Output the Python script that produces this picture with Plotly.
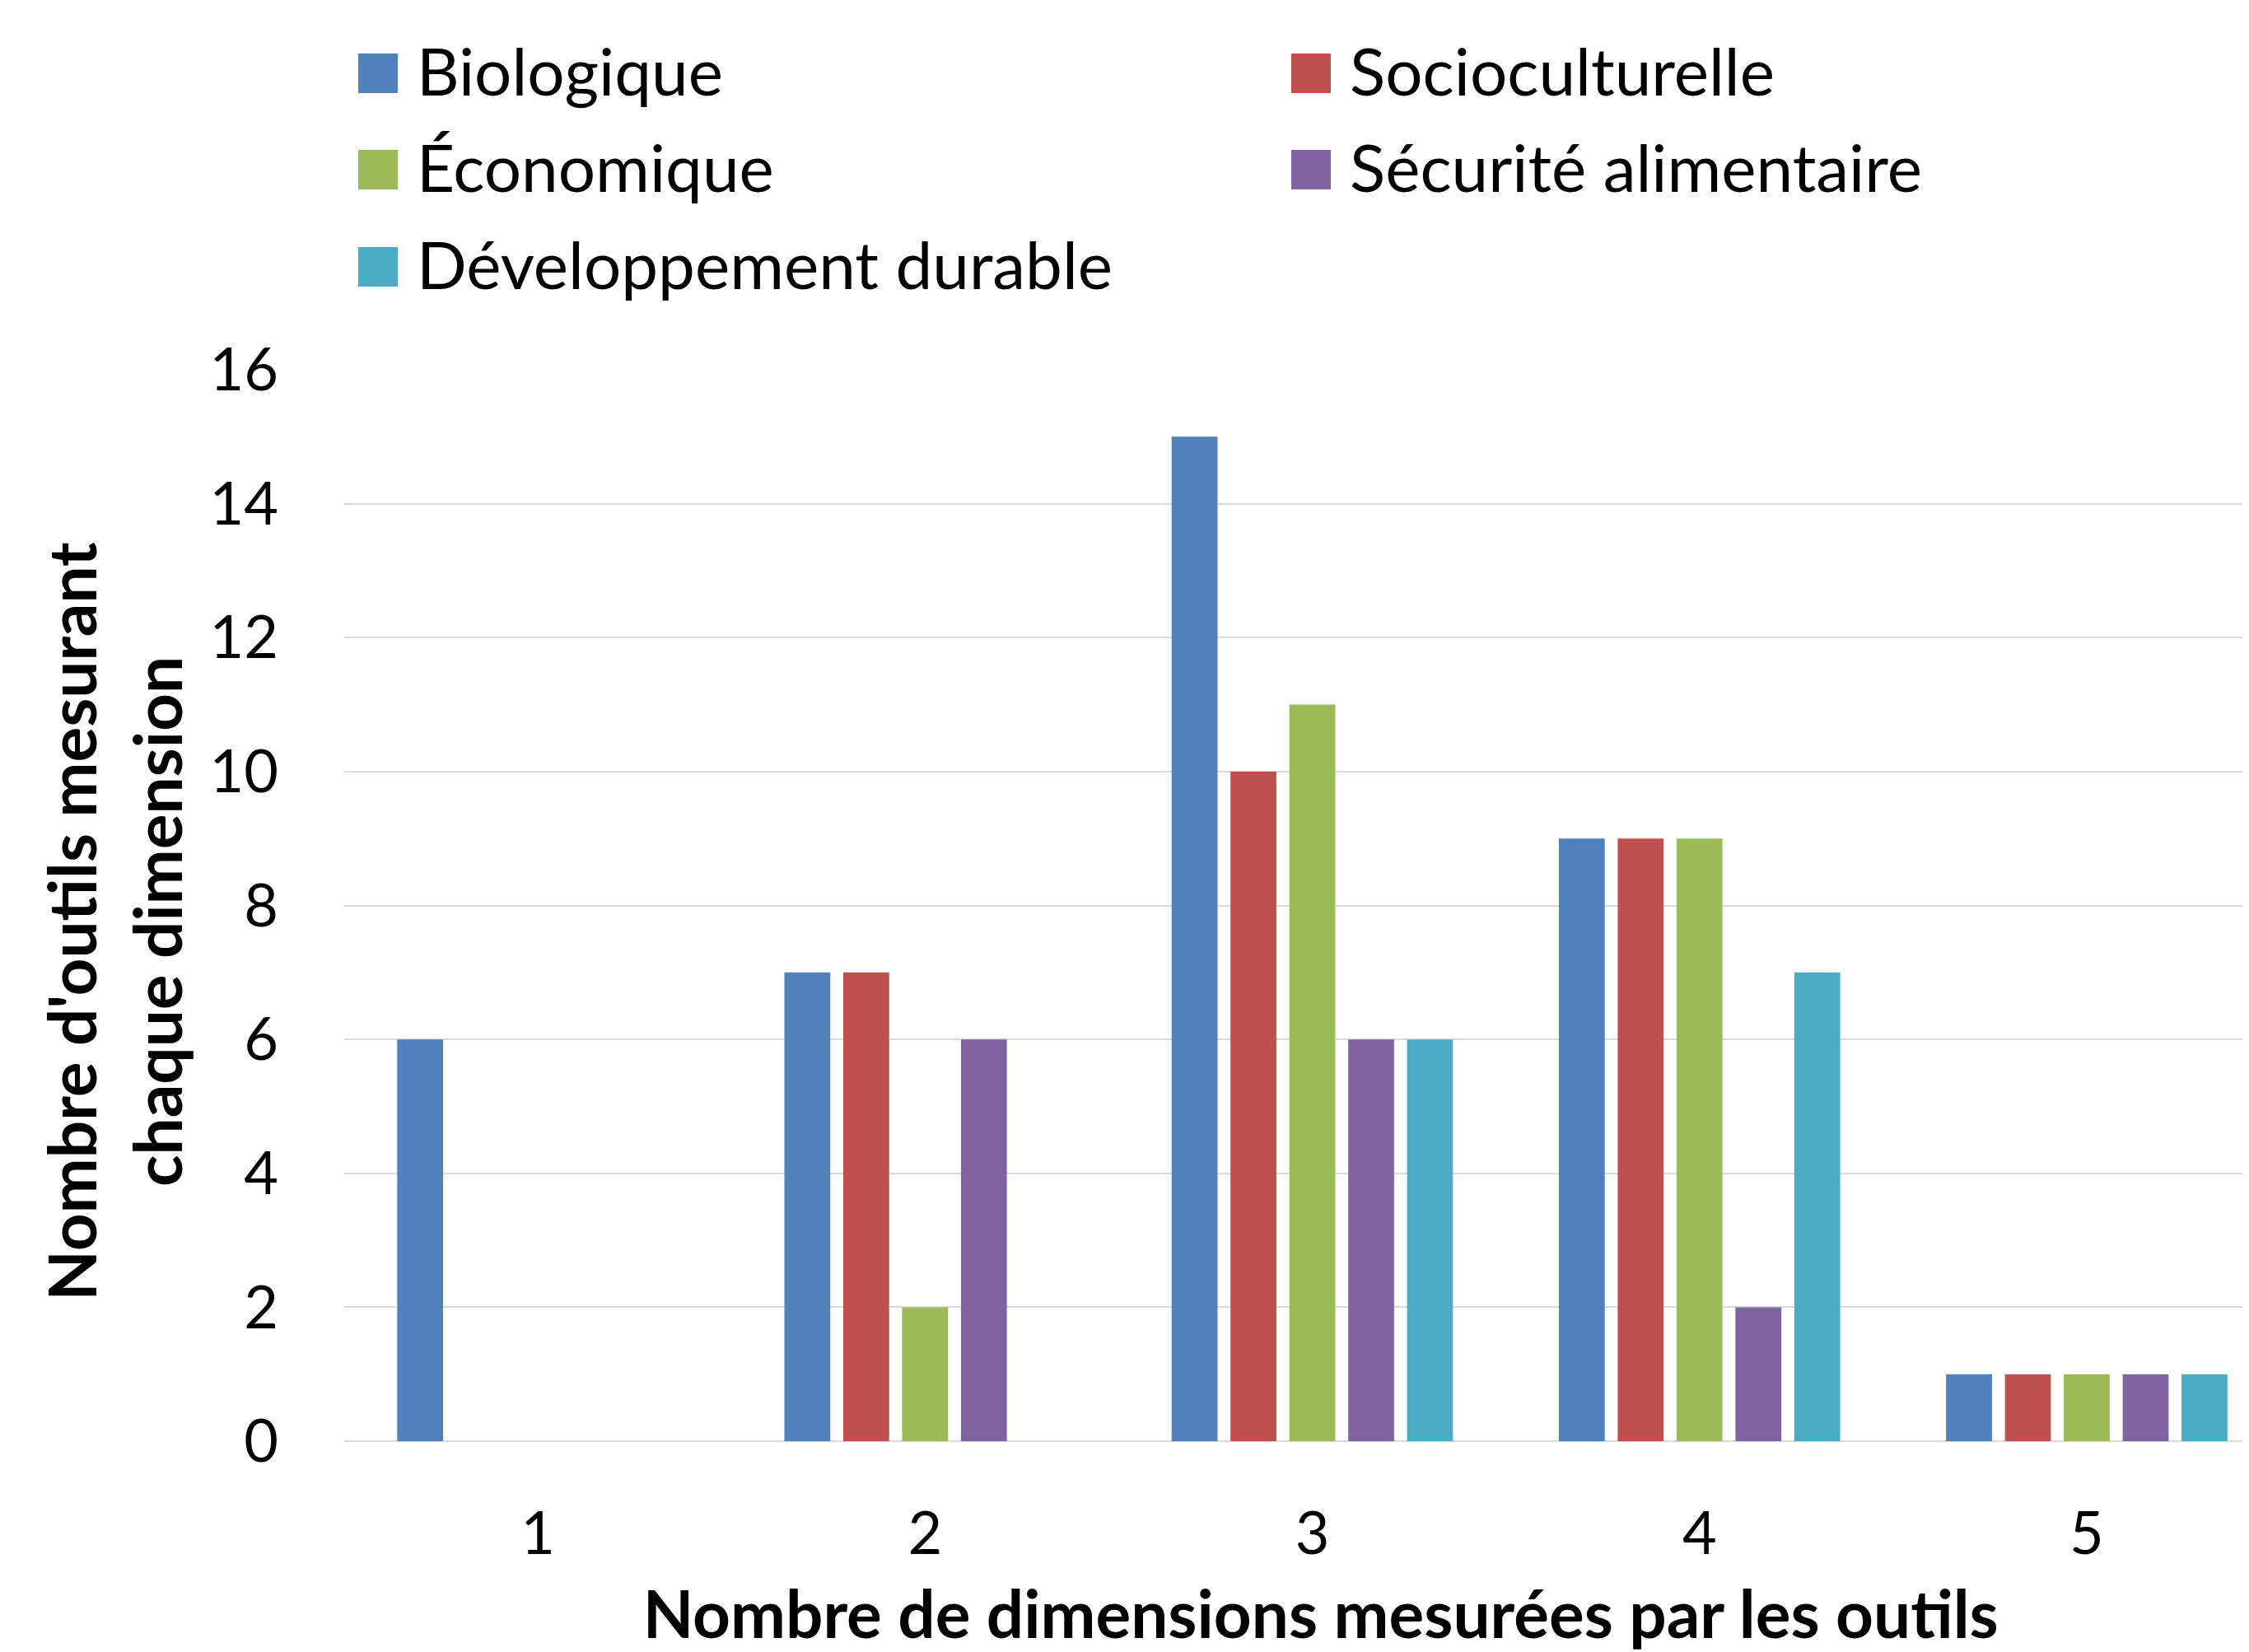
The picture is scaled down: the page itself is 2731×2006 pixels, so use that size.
import plotly.graph_objects as go

categories = [1, 2, 3, 4, 5]
series_names = ["Biologique", "Socioculturelle", "Économique", "Sécurité alimentaire", "Développement durable"]
biologique = [6, 7, 15, 9, 1]
socioculturelle = [0, 7, 10, 9, 1]
economique = [0, 2, 11, 9, 1]
securite = [0, 6, 6, 2, 1]
durable = [0, 0, 6, 7, 1]
y_ticks = [0, 2, 4, 6, 8, 10, 12, 14, 16]

values = [biologique, socioculturelle, economique, securite, durable]
colors = ["#4F81BD", "#C0504D", "#9BBB59", "#8064A2", "#4BACC6"]

# page body has an 8px margin; compensate so the plot lands where the original does
OFF = 8
W, H = 2731 - OFF, 2006 - OFF
ML, MR, MT, MB = 418 - OFF, 0, 449 - OFF, 256
PW, PH = W - ML - MR, H - MT - MB
FONT = "Lato"
NB = "\u00a0"

fig = go.Figure()
for name, vals, col in zip(series_names, values, colors):
    fig.add_trace(go.Bar(x=categories, y=vals, name=name, marker=dict(color=col, line=dict(width=0)),
                         showlegend=False))

# custom legend (large square swatches like the original), positions in screen px
def px2paper(x, y):
    x -= OFF
    y -= OFF
    return (x - ML) / PW, (H - MB - y) / PH

legend_layout = [
    (0, 435, 89), (1, 1568, 89),
    (2, 435, 206), (3, 1568, 206),
    (4, 435, 324),
]
shapes = []
annotations = []
sq = 48
for idx, lx, cy in legend_layout:
    x0, y0 = px2paper(lx, cy + sq / 2)
    x1, y1 = px2paper(lx + sq, cy - sq / 2)
    shapes.append(dict(type="rect", xref="paper", yref="paper", x0=x0, x1=x1, y0=y0, y1=y1,
                       fillcolor=colors[idx], line=dict(width=0)))
    tx, ty = px2paper(lx + 69, cy - 4)
    annotations.append(dict(xref="paper", yref="paper", x=tx, y=ty, xanchor="left", yanchor="middle",
                            text=series_names[idx], showarrow=False,
                            font=dict(family=FONT, size=80, color="black")))

fig.update_layout(
    width=W, height=H,
    margin=dict(l=ML, r=MR, t=MT, b=MB, autoexpand=False),
    paper_bgcolor="white", plot_bgcolor="white",
    barmode="group", bargap=0.24, bargroupgap=0.22,
    font=dict(family=FONT, size=76, color="black"),
    shapes=shapes, annotations=annotations,
    showlegend=False,
)
fig.update_xaxes(
    range=[0.5, 0.5 + PW / (2313 / 4.919)], tickvals=categories, ticktext=[str(c) for c in categories],
    showgrid=False, zeroline=False, showline=False, ticks="",
    tickfont=dict(family=FONT, size=72, color="black"), ticklabelstandoff=64,
    title=dict(text="<b>" + NB * 3 + "Nombre de dimensions mesurées par les outils</b>",
               font=dict(family=FONT, size=80, color="black"), standoff=60),
    automargin=False,
)
fig.update_yaxes(
    range=[0, 16], tickvals=y_ticks, showgrid=True, gridcolor="#D9D9D9", gridwidth=2,
    zeroline=True, zerolinecolor="#D9D9D9", zerolinewidth=2, showline=False, ticks="",
    tickfont=dict(family=FONT, size=72, color="black"), ticklabelstandoff=79,
    title=dict(text="<b>Nombre d'outils mesurant" + NB * 2 + "<br>chaque dimension" + NB * 2 + "</b>",
               font=dict(family=FONT, size=80, color="black"), standoff=6),
    automargin=False,
)

fig.write_html("out.html")
